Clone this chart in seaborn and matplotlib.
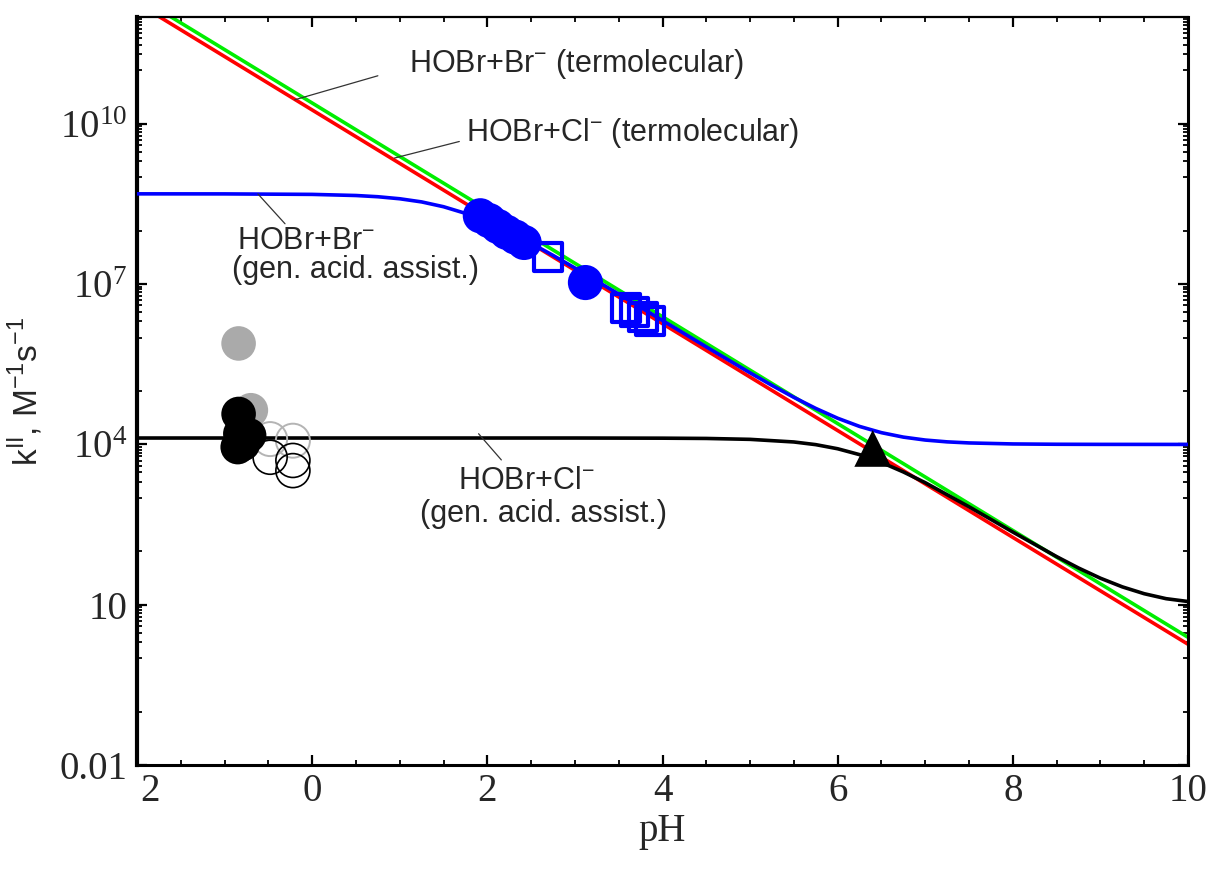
import numpy as np
import matplotlib
matplotlib.use("Agg")
import matplotlib.pyplot as plt
import matplotlib.transforms as mtransforms
from matplotlib.ticker import FixedLocator, NullFormatter
import seaborn as sns

# ---------------- data (pH, log10 k) ----------------
ph_line = [-2.0, 10.0]
logk_red = [12.26, 0.26]          # HOBr+Cl- (termolecular)
logk_green = [12.39, 0.39]        # HOBr+Br- (termolecular)

ph_blue = [-2, -1, 0, 0.5, 0.75, 1.0, 1.25, 1.5, 1.75, 2.0, 2.25, 2.5, 2.75, 3.0,
           3.5, 4.0, 4.5, 5.0, 5.25, 5.5, 5.75, 6.0, 6.25, 6.5, 6.75, 7.0, 7.25,
           7.5, 8.0, 8.5, 9.0, 10.0]
logk_blue = [8.690, 8.689, 8.680, 8.659, 8.636, 8.598, 8.539, 8.449, 8.325, 8.166,
             7.977, 7.765, 7.538, 7.302, 6.814, 6.320, 5.826, 5.340, 5.105, 4.881,
             4.674, 4.490, 4.337, 4.220, 4.137, 4.082, 4.048, 4.028, 4.009, 4.003,
             4.001, 4.000]

ph_black = [-2, 0, 2, 3, 4, 4.5, 5.0, 5.5, 5.75, 6.0, 6.25, 6.5, 6.75, 7.0, 7.5,
            8.0, 8.5, 8.75, 9.0, 9.25, 9.5, 9.75, 10.0]
logk_black = [4.120, 4.120, 4.120, 4.120, 4.117, 4.112, 4.095, 4.046, 3.996, 3.919,
              3.809, 3.663, 3.485, 3.284, 2.833, 2.360, 1.900, 1.687, 1.496, 1.334,
              1.206, 1.113, 1.060]

ph_blue_circ = [1.92, 2.02, 2.12, 2.22, 2.32, 2.42, 3.12]
logk_blue_circ = [8.28, 8.19, 8.08, 7.97, 7.88, 7.78, 7.03]

ph_blue_sq = [2.69, 3.58, 3.68, 3.78, 3.86]
logk_blue_sq = [7.51, 6.55, 6.48, 6.38, 6.31]

ph_tri = [6.40]
logk_tri = [3.925]

ph_gray_fill = [-0.84, -0.70]
logk_gray_fill = [5.89, 4.64]

ph_black_fill = [-0.84, -0.82, -0.72, -0.79, -0.85]
logk_black_fill = [4.57, 4.20, 4.17, 4.01, 3.95]

ph_gray_open = [-0.48, -0.22]
logk_gray_open = [4.10, 4.07]

ph_black_open = [-0.48, -0.22, -0.22]
logk_black_open = [3.76, 3.70, 3.51]

x_ticks = [-2, 0, 2, 4, 6, 8, 10]
x_ticklabels = ["2", "0", "2", "4", "6", "8", "10"]
y_ticks = [0.01, 10, 1e4, 1e7, 1e10]
y_ticklabels = ["0.01", "10", r"$\mathregular{10^{4}}$", r"$\mathregular{10^{7}}$",
                r"$\mathregular{10^{10}}$"]


def K(v):
    return 10 ** np.asarray(v, dtype=float)


# ---------------- figure ----------------
sns.set_style("ticks")
plt.rcParams["font.family"] = ["Liberation Sans", "DejaVu Sans"]

fig = plt.figure(figsize=(12.10, 8.73), dpi=100)
ax = fig.add_axes([137 / 1210, 1 - 765 / 873, (1188 - 137) / 1210, (765 - 17) / 873])
ax.set_yscale("log")

lw = 2.6
sns.lineplot(x=ph_line, y=K(logk_green), color="#00ee00", linewidth=lw, ax=ax,
             estimator=None, sort=False, zorder=2)
sns.lineplot(x=ph_line, y=K(logk_red), color="#ff0000", linewidth=lw, ax=ax,
             estimator=None, sort=False, zorder=2)
sns.lineplot(x=ph_blue, y=K(logk_blue), color="#0000ff", linewidth=lw, ax=ax,
             estimator=None, sort=False, zorder=3)
sns.lineplot(x=ph_black, y=K(logk_black), color="black", linewidth=lw, ax=ax,
             estimator=None, sort=False, zorder=3)

# markers
sns.scatterplot(x=ph_gray_open, y=K(logk_gray_open), marker="o", s=600,
                color="none", edgecolor="#b4b4b4", linewidth=1.4, ax=ax, zorder=4)
sns.scatterplot(x=ph_black_open, y=K(logk_black_open), marker="o", s=600,
                color="none", edgecolor="black", linewidth=1.2, ax=ax, zorder=4)
sns.scatterplot(x=ph_gray_fill, y=K(logk_gray_fill), marker="o", s=620,
                color="#aaaaaa", edgecolor="none", linewidth=0, ax=ax, zorder=5)
sns.scatterplot(x=ph_black_fill, y=K(logk_black_fill), marker="o", s=620,
                color="black", edgecolor="none", linewidth=0, ax=ax, zorder=6)
sns.scatterplot(x=ph_blue_circ, y=K(logk_blue_circ), marker="o", s=640,
                color="#0000ff", edgecolor="none", linewidth=0, ax=ax, zorder=6)
sns.scatterplot(x=ph_blue_sq, y=K(logk_blue_sq), marker="s", s=400,
                color="none", edgecolor="#0000ff", linewidth=3.0, ax=ax, zorder=6)
sns.scatterplot(x=ph_tri, y=K(logk_tri), marker="^", s=700,
                color="black", edgecolor="none", linewidth=0, ax=ax, zorder=6)

# ---------------- axes formatting ----------------
ax.set_xlim(-2, 10)
ax.set_ylim(1e-2, 1e12)

ax.xaxis.set_major_locator(FixedLocator(x_ticks))
ax.set_xticklabels(x_ticklabels)
ax.xaxis.set_minor_locator(FixedLocator(np.arange(-2, 10.01, 0.5)))

ax.yaxis.set_major_locator(FixedLocator(y_ticks))
ax.set_yticklabels(y_ticklabels)
minor_y = []
for m in [-2, 1, 4, 7, 10]:
    for k in range(1, 10):
        minor_y.append(k * 10.0 ** (m - 1))
    minor_y.append(10.0 ** (m - 2))
minor_y.append(10.0 ** 11)
for k in range(2, 10):
    minor_y.append(k * 10.0 ** 11)
ax.yaxis.set_minor_locator(FixedLocator(minor_y))
ax.yaxis.set_minor_formatter(NullFormatter())

for lab in ax.get_xticklabels() + ax.get_yticklabels():
    lab.set_fontfamily("Liberation Serif")
    lab.set_fontsize(28)

ax.tick_params(which="both", direction="in", top=True, right=True, color="black")
ax.tick_params(which="major", length=7, width=1.6)
ax.tick_params(which="minor", length=3.5, width=1.3)
ax.tick_params(axis="x", which="major", pad=6)
ax.tick_params(axis="y", which="major", pad=7)

# the leftmost tick label sits a little right of its tick (its minus sign is missing)
first = ax.xaxis.get_major_ticks()[0].label1
first.set_transform(first.get_transform() +
                    mtransforms.ScaledTranslation(0.13, 0, fig.dpi_scale_trans))

ax.spines["left"].set_linewidth(3.0)
ax.spines["bottom"].set_linewidth(2.2)
ax.spines["right"].set_linewidth(2.2)
ax.spines["top"].set_linewidth(1.6)
for s in ax.spines.values():
    s.set_color("black")

ax.set_xlabel("pH", fontfamily="Liberation Serif", fontsize=28, labelpad=2)
ax.set_ylabel(r"k$^{\mathregular{II}}$, M$^{\mathregular{-1}}$s$^{\mathregular{-1}}$",
              fontfamily="Liberation Sans", fontsize=24)
ax.yaxis.set_label_coords(-0.088, 0.50)

# ---------------- annotations ----------------
fs = 22
lc = "#333333"
ax.plot([-0.20, 0.75], [10 ** 10.45, 10 ** 10.90], color=lc, lw=0.9, zorder=7)
ax.text(1.10, 10 ** 10.97, r"HOBr+Br$^{\mathregular{-}}$ (termolecular)", fontsize=fs,
        ha="left", va="baseline")
ax.plot([0.94, 1.68], [10 ** 9.36, 10 ** 9.67], color=lc, lw=0.9, zorder=7)
ax.text(1.76, 10 ** 9.675, r"HOBr+Cl$^{\mathregular{-}}$ (termolecular)", fontsize=fs,
        ha="left", va="baseline")

ax.plot([-0.62, -0.31], [10 ** 8.69, 10 ** 8.13], color=lc, lw=0.9, zorder=7)
ax.text(-0.86, 10 ** 7.658, r"HOBr+Br$^{\mathregular{-}}$", fontsize=fs,
        ha="left", va="baseline")
ax.text(-0.92, 10 ** 7.116, "(gen. acid. assist.)", fontsize=fs,
        ha="left", va="baseline")

ax.plot([1.90, 2.16], [10 ** 4.20, 10 ** 3.71], color=lc, lw=0.9, zorder=7)
ax.text(1.66, 10 ** 3.172, r"HOBr+Cl$^{\mathregular{-}}$", fontsize=fs,
        ha="left", va="baseline")
ax.text(1.23, 10 ** 2.548, "(gen. acid. assist.)", fontsize=fs,
        ha="left", va="baseline")

fig.savefig("out.png", dpi=100, facecolor="white")
